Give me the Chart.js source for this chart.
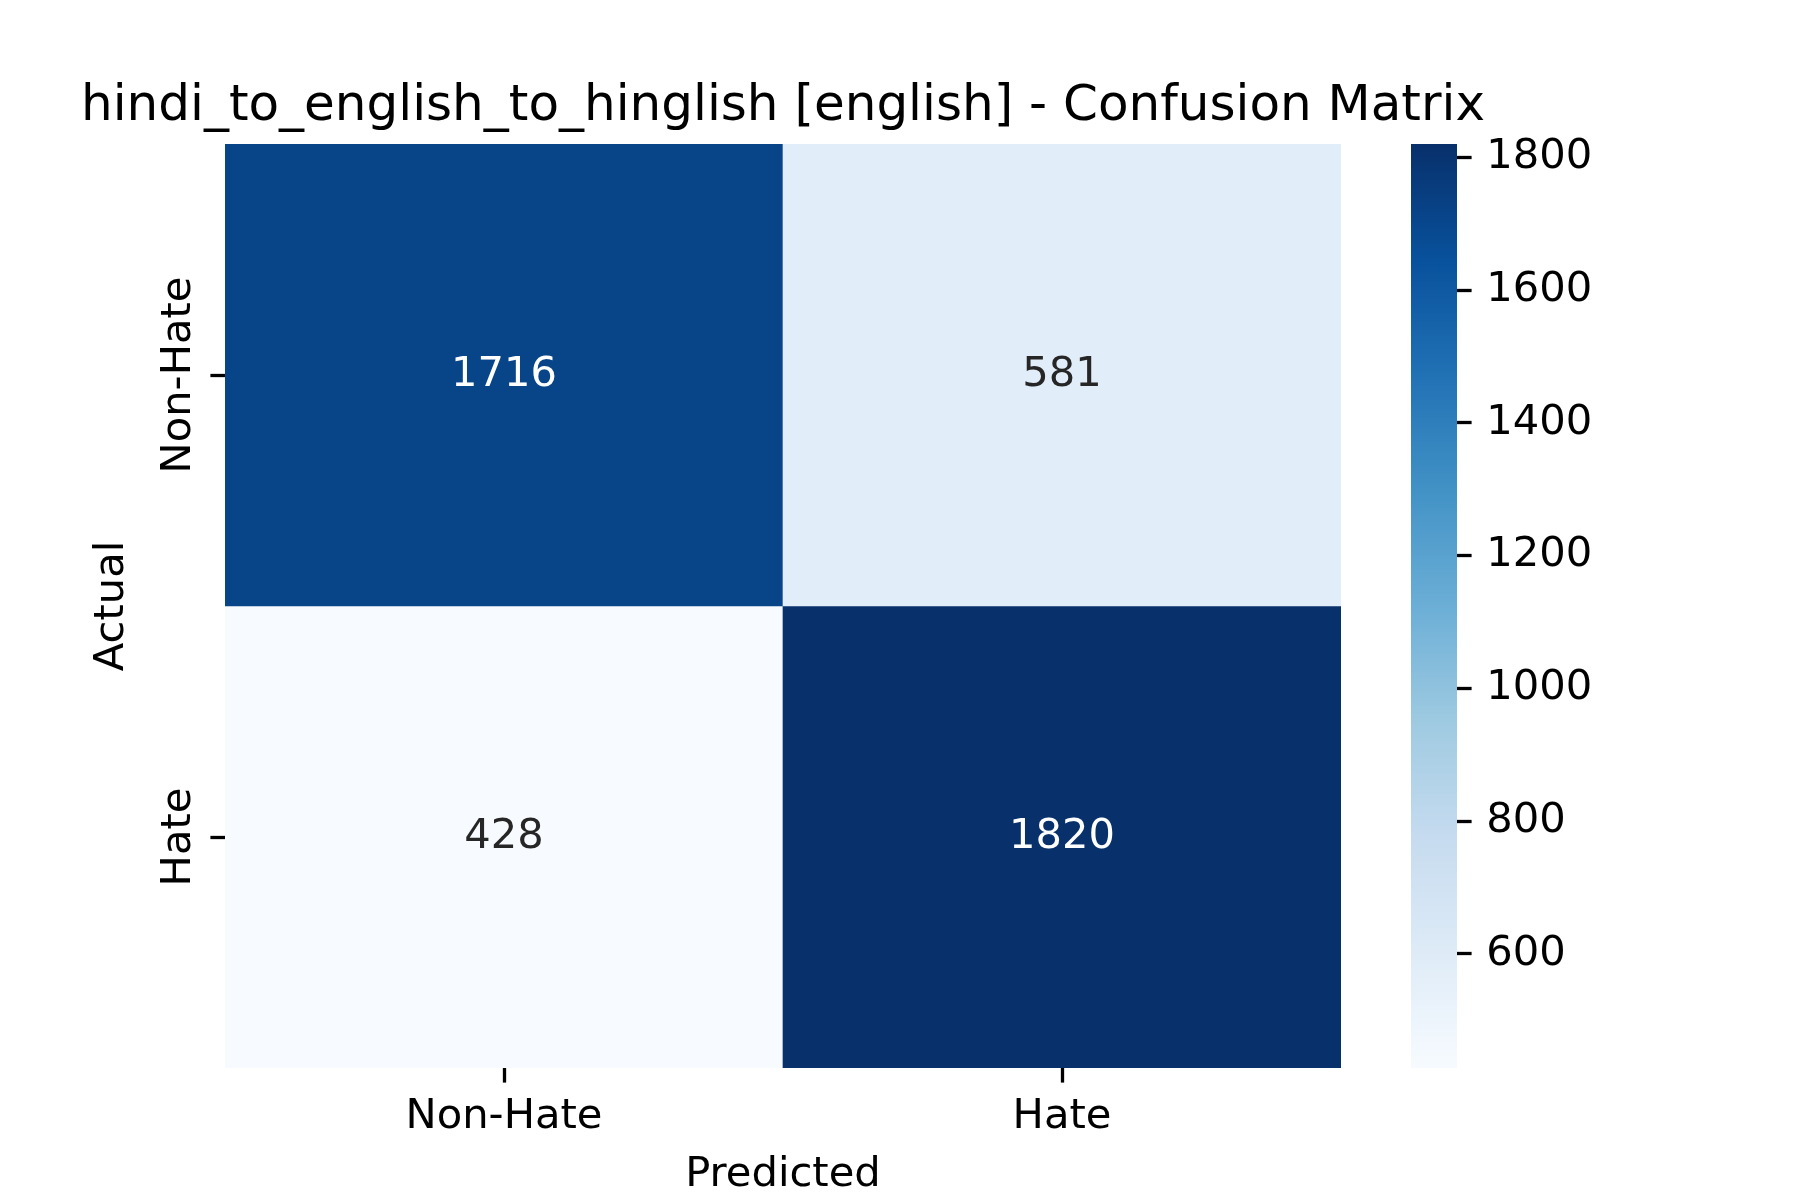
<!DOCTYPE html>
<html lang="en">

<head>
    <meta charset="UTF-8">
    <title>Confusion Matrix</title>
    <script src="https://cdn.jsdelivr.net/npm/chart.js@4.4.1/dist/chart.umd.min.js"></script>
    <style>
        body {
            margin: 0;
            background: #fff;
        }

        .wrap {
            position: relative;
            width: 1800px;
            height: 1200px;
        }

        #matrix {
            position: absolute;
            left: 0;
            top: 0;
        }

        #colorbar {
            position: absolute;
            left: 1411px;
            top: 0;
        }
    </style>
</head>

<body>
    <div class="wrap">
        <canvas id="matrix" width="1800" height="1200"></canvas>
        <canvas id="colorbar" width="389" height="1200"></canvas>
    </div>

    <script>
        // data
        const chartTitle = 'hindi_to_english_to_hinglish [english] - Confusion Matrix';
        const predictedLabels = ['Non-Hate', 'Hate'];
        const actualLabels = ['Non-Hate', 'Hate'];
        const nonHateRow = [1716, 581];
        const hateRow = [428, 1820];
        const colorbarTicks = [600, 800, 1000, 1200, 1400, 1600, 1800];

        const rows = [nonHateRow, hateRow];
        const allValues = rows.flat();
        const vmin = Math.min(...allValues);
        const vmax = Math.max(...allValues);

        // matplotlib "Blues"
        const blues = ['#f7fbff', '#deebf7', '#c6dbef', '#9ecae1', '#6baed6', '#4292c6', '#2171b5', '#08519c', '#08306b'];

        function hexToRgb(h) {
            return [parseInt(h.slice(1, 3), 16), parseInt(h.slice(3, 5), 16), parseInt(h.slice(5, 7), 16)];
        }

        function bluesRgb(v) {
            const t = Math.max(0, Math.min(1, (v - vmin) / (vmax - vmin))) * (blues.length - 1);
            const i = Math.min(Math.floor(t), blues.length - 2);
            const f = t - i;
            const a = hexToRgb(blues[i]);
            const b = hexToRgb(blues[i + 1]);
            return a.map((c, k) => Math.round(c + (b[k] - c) * f));
        }

        function bluesColor(v) {
            const c = bluesRgb(v);
            return 'rgb(' + c.join(',') + ')';
        }

        // same rule seaborn uses to pick annotation colour
        function textColor(v) {
            const lin = bluesRgb(v).map(c => {
                c = c / 255;
                return c <= 0.03928 ? c / 12.92 : Math.pow((c + 0.055) / 1.055, 2.4);
            });
            const lum = 0.2126 * lin[0] + 0.7152 * lin[1] + 0.0722 * lin[2];
            return lum > 0.408 ? '#262626' : '#ffffff';
        }

        Chart.defaults.font.family = "'DejaVu Sans', sans-serif";
        Chart.defaults.color = '#000';

        const fs = 41.67; // 10pt @ 300dpi
        const tickLen = 14.6;
        const tickPad = 14.6;

        const annotate = {
            id: 'annotate',
            afterDatasetsDraw(chart) {
                const ctx = chart.ctx;
                ctx.save();
                ctx.font = fs + "px 'DejaVu Sans'";
                ctx.textAlign = 'center';
                ctx.textBaseline = 'middle';
                rows.forEach((row, i) => {
                    chart.getDatasetMeta(i).data.forEach((bar, j) => {
                        const p = bar.getProps(['x', 'y', 'base'], true);
                        ctx.fillStyle = textColor(row[j]);
                        ctx.fillText(String(row[j]), p.x, (p.y + p.base) / 2);
                    });
                });
                ctx.restore();
            },
            afterDraw(chart) {
                const { ctx, chartArea } = chart;
                const yScale = chart.scales.y;
                ctx.save();
                ctx.fillStyle = '#000';

                // title, centred over the heatmap
                ctx.font = "50px 'DejaVu Sans'";
                ctx.textAlign = 'center';
                ctx.textBaseline = 'alphabetic';
                ctx.fillText(chartTitle, (chartArea.left + chartArea.right) / 2, chartArea.top - 24);

                // vertical row labels
                ctx.font = fs + "px 'DejaVu Sans'";
                yScale.ticks.forEach((t, i) => {
                    const y = yScale.getPixelForValue(t.value);
                    ctx.save();
                    ctx.translate(yScale.right - 35, y);
                    ctx.rotate(-Math.PI / 2);
                    ctx.fillText(actualLabels[i], 0, 0);
                    ctx.restore();
                });
                ctx.restore();
            }
        };

        new Chart(document.getElementById('matrix'), {
            type: 'bar',
            data: {
                labels: predictedLabels,
                datasets: rows.map((row, i) => ({
                    label: actualLabels[i],
                    data: row.map(() => [i, i + 1]),
                    backgroundColor: row.map(bluesColor),
                    borderWidth: 0,
                    barPercentage: 1,
                    categoryPercentage: 1,
                    grouped: false
                }))
            },
            options: {
                responsive: false,
                animation: false,
                events: [],
                layout: {
                    padding: { left: 0, right: 459, top: 144, bottom: 0 }
                },
                plugins: {
                    legend: { display: false },
                    tooltip: { enabled: false },
                    title: { display: false }
                },
                scales: {
                    x: {
                        type: 'category',
                        offset: true,
                        grid: {
                            offset: false,
                            drawOnChartArea: false,
                            tickLength: tickLen,
                            tickWidth: 3.3,
                            tickColor: '#000'
                        },
                        border: { display: false },
                        ticks: { font: { size: fs }, color: '#000', padding: 10 },
                        title: {
                            display: true,
                            text: 'Predicted',
                            color: '#000',
                            font: { size: fs },
                            padding: { top: 0, bottom: 0 }
                        },
                        afterFit(scale) {
                            scale.height = 132;
                        }
                    },
                    y: {
                        type: 'linear',
                        min: 0,
                        max: actualLabels.length,
                        reverse: true,
                        afterBuildTicks(scale) {
                            scale.ticks = actualLabels.map((_, i) => ({ value: i + 0.5 }));
                        },
                        grid: {
                            drawOnChartArea: false,
                            tickLength: tickLen,
                            tickWidth: 3.3,
                            tickColor: '#000'
                        },
                        border: { display: false },
                        ticks: { display: false },
                        title: {
                            display: true,
                            text: 'Actual',
                            color: '#000',
                            font: { size: fs },
                            padding: { top: 87, bottom: 0 }
                        },
                        afterFit(scale) {
                            scale.width = 225;
                        }
                    }
                }
            },
            plugins: [annotate]
        });

        const gradientBar = {
            id: 'gradientBar',
            beforeDatasetsDraw(chart) {
                const { ctx, chartArea } = chart;
                const yScale = chart.scales.y;
                const g = ctx.createLinearGradient(0, yScale.getPixelForValue(vmin), 0, yScale.getPixelForValue(vmax));
                blues.forEach((c, i) => g.addColorStop(i / (blues.length - 1), c));
                ctx.save();
                ctx.fillStyle = g;
                ctx.fillRect(chartArea.left, chartArea.top, chartArea.right - chartArea.left, chartArea.bottom - chartArea.top);
                ctx.restore();
            }
        };

        new Chart(document.getElementById('colorbar'), {
            type: 'scatter',
            data: { datasets: [] },
            options: {
                responsive: false,
                animation: false,
                events: [],
                layout: {
                    padding: { left: 0, right: 0, top: 144, bottom: 132 }
                },
                plugins: {
                    legend: { display: false },
                    tooltip: { enabled: false }
                },
                scales: {
                    x: { display: false },
                    y: {
                        position: 'right',
                        min: vmin,
                        max: vmax,
                        afterBuildTicks(scale) {
                            scale.ticks = colorbarTicks.map(v => ({ value: v }));
                        },
                        grid: {
                            drawOnChartArea: false,
                            tickLength: tickLen,
                            tickWidth: 3.3,
                            tickColor: '#000'
                        },
                        border: { display: false },
                        ticks: {
                            font: { size: fs },
                            color: '#000',
                            padding: tickPad,
                            callback: v => String(v)
                        },
                        afterFit(scale) {
                            scale.width = 389 - 46;
                        }
                    }
                }
            },
            plugins: [gradientBar]
        });
    </script>
</body>

</html>
